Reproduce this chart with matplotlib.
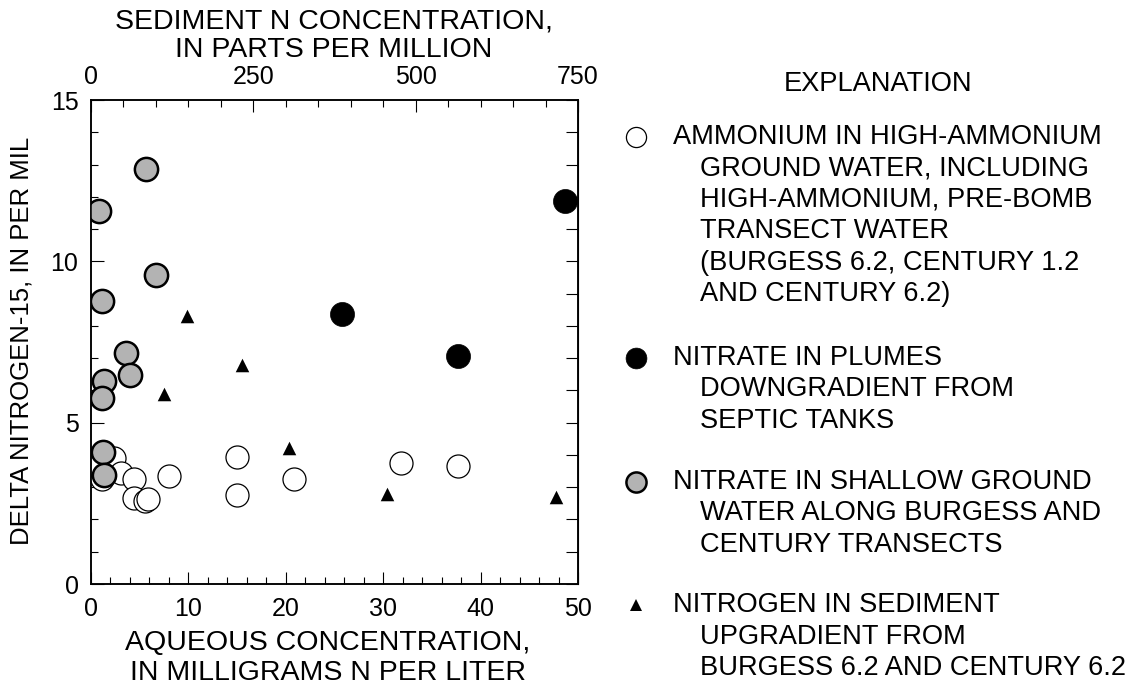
import matplotlib.pyplot as plt
from matplotlib.ticker import MultipleLocator

plt.rcParams['font.family'] = ['Liberation Sans', 'DejaVu Sans']

# ammonium in high-ammonium ground water (mg N/L, delta N-15 per mil)
amm_x = [1.1, 2.4, 3.1, 4.4, 4.4, 5.5, 5.9, 8.0, 15.0, 15.0, 20.8, 31.8, 37.7]
amm_y = [3.25, 3.9, 3.43, 3.25, 2.65, 2.58, 2.62, 3.35, 3.95, 2.75, 3.25, 3.75, 3.65]

# nitrate in plumes downgradient from septic tanks
plume_x = [25.8, 37.7, 48.7]
plume_y = [8.37, 7.07, 11.87]

# nitrate in shallow ground water along transects
shallow_x = [5.6, 0.82, 6.67, 1.1, 3.6, 4.0, 1.33, 1.1, 1.2, 1.33]
shallow_y = [12.87, 11.57, 9.58, 8.77, 7.17, 6.48, 6.29, 5.77, 4.08, 3.38]

# nitrogen in sediment (ppm, top axis)
sed_ppm = [148, 233, 113, 305, 456, 716]
sed_y = [8.3, 6.8, 5.9, 4.2, 2.79, 2.7]

W, H = 1142, 689
fig = plt.figure(figsize=(W / 100, H / 100), dpi=100)

def fx(px):
    return px / W

def fy(py):
    return 1 - py / H

ax = fig.add_axes([fx(91), fy(584), fx(578) - fx(91), fy(100) - fy(584)])
ax.set_xlim(0, 50)
ax.set_ylim(0, 15)

ax.scatter(amm_x, amm_y, s=275, facecolor='white', edgecolor='black', linewidth=0.9, zorder=3)
ax.scatter(shallow_x, shallow_y, s=280, facecolor='#b3b3b3', edgecolor='black', linewidth=1.8, zorder=4)
ax.scatter(plume_x, plume_y, s=300, facecolor='black', edgecolor='black', linewidth=0.5, zorder=5)

for sp in ax.spines.values():
    sp.set_linewidth(1.1)

tick_fs = 18
ax.xaxis.set_major_locator(MultipleLocator(10))
ax.xaxis.set_minor_locator(MultipleLocator(2))
ax.yaxis.set_major_locator(MultipleLocator(5))
ax.yaxis.set_minor_locator(MultipleLocator(1))
ax.tick_params(which='both', direction='in', top=False, right=False, width=0.8, labelsize=tick_fs)
ax.tick_params(which='major', length=9, pad=9)
ax.tick_params(which='minor', length=4.8)

# right-hand ticks, every unit, all same length
ry = ax.secondary_yaxis('right')
ry.set_yticks(range(0, 16))
ry.tick_params(direction='in', length=8.6, width=0.8, labelright=False)
ry.yaxis.set_minor_locator(plt.NullLocator())

# top axis for sediment concentration
tx = ax.twiny()
tx.set_xlim(0, 750)
tx.scatter(sed_ppm, sed_y, marker='^', s=95, color='black', linewidth=0, zorder=6)
tx.xaxis.set_major_locator(MultipleLocator(250))
tx.xaxis.set_minor_locator(MultipleLocator(50))
tx.tick_params(which='both', direction='in', width=0.8, labelsize=tick_fs)
tx.tick_params(which='major', length=8.6, pad=8)
tx.tick_params(which='minor', length=4.7)
for sp in tx.spines.values():
    sp.set_linewidth(1.1)

# axis titles
lab = 20.5
fig.text(fx(334), fy(22), "SEDIMENT N CONCENTRATION,", ha='center', va='center', fontsize=lab)
fig.text(fx(334), fy(50), "IN PARTS PER MILLION", ha='center', va='center', fontsize=lab)
fig.text(fx(328), fy(643), "AQUEOUS CONCENTRATION,", ha='center', va='center', fontsize=lab)
fig.text(fx(328), fy(673), "IN MILLIGRAMS N PER LITER", ha='center', va='center', fontsize=lab)
fig.text(fx(22), fy(341), "DELTA NITROGEN-15, IN PER MIL", ha='center', va='center',
         rotation=90, fontsize=18.5)

# explanation
leg = 19.6
fig.text(fx(878), fy(84), "EXPLANATION", ha='center', va='center', fontsize=leg)

entries = [
    (137, dict(marker='o', ms=14.5, mfc='white', mec='black', mew=0.9),
     ["AMMONIUM IN HIGH-AMMONIUM", "GROUND WATER, INCLUDING",
      "HIGH-AMMONIUM, PRE-BOMB", "TRANSECT WATER",
      "(BURGESS 6.2, CENTURY 1.2", "AND CENTURY 6.2)"]),
    (358, dict(marker='o', ms=15, mfc='black', mec='black', mew=0.5),
     ["NITRATE IN PLUMES", "DOWNGRADIENT FROM", "SEPTIC TANKS"]),
    (482, dict(marker='o', ms=14.5, mfc='#b3b3b3', mec='black', mew=1.8),
     ["NITRATE IN SHALLOW GROUND", "WATER ALONG BURGESS AND",
      "CENTURY TRANSECTS"]),
    (605, dict(marker='^', ms=9, mfc='black', mec='black', mew=0),
     ["NITROGEN IN SEDIMENT", "UPGRADIENT FROM",
      "BURGESS 6.2 AND CENTURY 6.2"]),
]

lax = fig.add_axes([0, 0, 1, 1])
lax.set_xlim(0, 1)
lax.set_ylim(0, 1)
lax.axis('off')
step = 31.5
for y0, style, lines in entries:
    lax.plot([fx(636)], [fy(y0)], linestyle='none', **style)
    for i, line in enumerate(lines):
        x0 = 673 if i == 0 else 700
        fig.text(fx(x0), fy(y0 + i * step), line, ha='left', va='center', fontsize=leg)

fig.savefig("out.png", dpi=100)
